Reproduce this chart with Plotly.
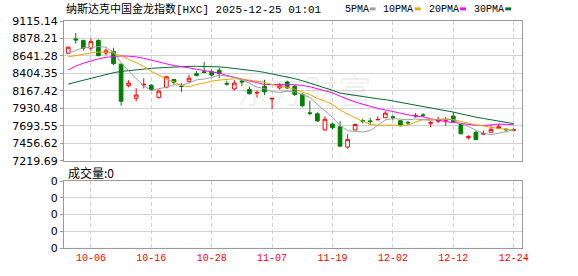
import plotly.graph_objects as go

# ---------------- data ----------------
dates = ["10-01", "10-02", "10-03", "10-06", "10-07", "10-08", "10-09", "10-10", "10-13", "10-14",
         "10-15", "10-16", "10-17", "10-20", "10-21", "10-22", "10-23", "10-24", "10-27", "10-28",
         "10-29", "10-30", "10-31", "11-03", "11-04", "11-05", "11-06", "11-07", "11-10", "11-11",
         "11-12", "11-13", "11-14", "11-17", "11-18", "11-19", "11-20", "11-21", "11-24", "11-25",
         "11-26", "11-28", "12-01", "12-02", "12-03", "12-04", "12-05", "12-08", "12-09", "12-10",
         "12-11", "12-12", "12-15", "12-16", "12-17", "12-18", "12-19", "12-22", "12-23", "12-24"]

open_ = [8676.8, 8871.6, 8851.9, 8746.6, 8851.9, 8680.8, 8700.5, 8529.4, 8237.2, 8066.0,
         8246.4, 8243.8, 8077.9, 8216.1, 8321.4, 8233.2, 8295.1, 8400.4, 8426.7, 8426.7,
         8447.8, 8266.1, 8193.7, 8299.0, 8184.5, 8137.1, 8229.3, 8058.1, 8206.9, 8285.9,
         8229.3, 8118.7, 7868.6, 7855.4, 7636.9, 7715.9, 7680.4, 7403.9, 7636.9, 7763.3,
         7759.3, 7773.8, 7802.8, 7815.9, 7762.0, 7739.6, 7825.2, 7841.0, 7729.1, 7755.4,
         7768.5, 7825.2, 7710.6, 7531.5, 7601.4, 7580.3, 7605.3, 7658.0, 7647.4, 7634.3]
high = [8766.3, 8953.2, 8858.5, 8878.2, 8865.0, 8742.6, 8753.1, 8536.0, 8312.2, 8202.9,
        8338.5, 8259.5, 8187.2, 8371.4, 8325.4, 8272.7, 8382.0, 8434.6, 8558.3, 8460.9,
        8479.4, 8305.6, 8312.2, 8316.2, 8229.3, 8171.3, 8316.2, 8066.0, 8272.7, 8305.6,
        8250.3, 8141.1, 8031.8, 7877.8, 7821.2, 7733.0, 7755.4, 7579.0, 7723.8, 7789.6,
        7798.8, 7821.2, 7890.9, 7834.4, 7766.0, 7759.3, 7864.6, 7864.6, 7755.4, 7812.0,
        7812.0, 7877.8, 7715.9, 7565.8, 7623.8, 7627.7, 7702.7, 7715.9, 7654.0, 7658.0]
low = [8667.6, 8808.4, 8713.7, 8713.7, 8634.7, 8650.5, 8516.2, 7966.0, 8216.1, 8026.6,
       8200.3, 8163.4, 8064.7, 8200.3, 8253.0, 8154.2, 8281.9, 8368.8, 8404.3, 8360.9,
       8338.5, 8239.8, 8171.3, 8229.3, 8118.7, 8075.3, 8110.8, 7921.2, 8184.5, 8193.7,
       8097.6, 7943.6, 7834.4, 7746.2, 7627.7, 7645.1, 7410.5, 7381.6, 7636.9, 7723.8,
       7702.7, 7772.5, 7802.8, 7768.5, 7689.6, 7702.7, 7802.8, 7812.0, 7671.2, 7733.0,
       7689.6, 7737.0, 7581.6, 7505.3, 7502.7, 7580.3, 7605.3, 7658.0, 7605.3, 7614.6]
close = [8759.7, 8858.5, 8746.6, 8834.8, 8645.2, 8711.0, 8536.0, 8026.6, 8272.7, 8110.8,
         8255.6, 8184.5, 8163.4, 8358.2, 8283.2, 8226.6, 8338.5, 8374.0, 8417.5, 8382.0,
         8404.3, 8259.5, 8272.7, 8288.5, 8128.0, 8145.0, 8154.2, 8066.0, 8239.8, 8206.9,
         8118.7, 7966.0, 7860.7, 7759.3, 7781.7, 7667.2, 7417.1, 7505.3, 7710.6, 7755.4,
         7750.1, 7779.1, 7864.6, 7808.0, 7693.5, 7733.0, 7831.8, 7834.4, 7735.6, 7768.5,
         7775.1, 7746.2, 7584.3, 7544.7, 7505.3, 7585.6, 7644.6, 7680.4, 7640.9, 7639.6]

ma5 = [8676.8, 8713.7, 8753.2, 8755.8, 8769.0, 8759.7, 8695.2, 8550.4, 8438.6, 8331.9,
       8239.8, 8170.0, 8197.7, 8214.8, 8249.0, 8243.8, 8274.0, 8316.1, 8328.0, 8347.7,
       8383.3, 8367.5, 8347.7, 8321.4, 8270.1, 8218.7, 8197.7, 8156.9, 8146.3, 8162.1,
       8156.9, 8120.0, 8077.9, 7981.8, 7897.6, 7806.7, 7697.5, 7626.4, 7615.9, 7610.6,
       7627.7, 7700.1, 7772.5, 7790.9, 7779.1, 7775.1, 7785.7, 7780.4, 7765.9, 7780.4,
       7789.6, 7772.5, 7722.5, 7684.3, 7631.7, 7593.5, 7572.4, 7592.2, 7611.9, 7638.3]
ma10 = [8628.1, 8647.9, 8667.6, 8680.8, 8693.9, 8693.9, 8680.8, 8641.3, 8595.2, 8550.4,
        8499.8, 8432.0, 8374.1, 8326.7, 8289.8, 8241.8, 8222.0, 8256.9, 8271.4, 8298.4,
        8313.5, 8320.8, 8331.9, 8324.7, 8309.6, 8301.0, 8282.6, 8251.6, 8234.5, 8216.1,
        8188.5, 8158.2, 8117.4, 8064.7, 8029.9, 7981.8, 7908.1, 7852.8, 7798.8, 7754.1,
        7717.2, 7698.8, 7698.8, 7704.1, 7694.9, 7701.4, 7743.6, 7776.5, 7779.1, 7780.4,
        7782.4, 7779.1, 7751.5, 7725.1, 7705.4, 7690.9, 7672.5, 7656.7, 7647.5, 7634.3]
ma20 = [8450.4, 8503.1, 8542.6, 8575.5, 8601.8, 8621.5, 8634.7, 8641.3, 8637.3, 8628.1,
        8608.4, 8582.0, 8555.7, 8529.4, 8509.6, 8496.5, 8476.7, 8463.6, 8446.5, 8424.1,
        8407.0, 8376.7, 8353.0, 8325.4, 8299.7, 8271.4, 8252.3, 8254.3, 8253.0, 8256.9,
        8250.3, 8239.8, 8224.0, 8195.0, 8170.0, 8141.1, 8095.0, 8051.6, 8016.7, 7985.8,
        7952.8, 7929.2, 7908.1, 7884.4, 7862.0, 7842.3, 7825.2, 7814.6, 7789.0, 7767.3,
        7750.1, 7738.3, 7725.1, 7714.6, 7700.1, 7696.2, 7708.0, 7716.6, 7713.3, 7706.7]
ma30 = [8259.5, 8285.9, 8312.2, 8338.5, 8364.8, 8391.2, 8413.5, 8430.7, 8443.8, 8454.4,
        8463.6, 8472.8, 8479.4, 8486.0, 8491.2, 8495.2, 8499.1, 8500.4, 8500.4, 8499.1,
        8492.5, 8483.3, 8472.8, 8462.3, 8449.1, 8434.6, 8417.5, 8397.8, 8378.0, 8355.6,
        8333.3, 8304.3, 8274.0, 8238.5, 8209.5, 8175.3, 8137.1, 8120.0, 8101.6, 8089.7,
        8072.6, 8059.5, 8048.9, 8030.5, 8010.8, 7995.0, 7977.9, 7959.4, 7937.1, 7917.3,
        7896.2, 7879.1, 7855.4, 7830.4, 7810.7, 7792.3, 7775.1, 7762.0, 7742.2, 7722.5]

volume = [0, 0, 0, 0, 0, 0, 0, 0, 0, 0, 0, 0, 0, 0, 0, 0, 0, 0, 0, 0,
          0, 0, 0, 0, 0, 0, 0, 0, 0, 0, 0, 0, 0, 0, 0, 0, 0, 0, 0, 0,
          0, 0, 0, 0, 0, 0, 0, 0, 0, 0, 0, 0, 0, 0, 0, 0, 0, 0, 0, 0]

price_ticks = [7219.69, 7456.62, 7693.55, 7930.48, 8167.42, 8404.35, 8641.28, 8878.21, 9115.14]
x_tick_labels = ["10-06", "10-16", "10-28", "11-07", "11-19", "12-02", "12-12", "12-24"]
vol_ticks = [0, 1, 2, 3, 4]
vol_tick_labels = ["0", "0", "0", "0", "0"]

title_text = "纳斯达克中国金龙指数[HXC] 2025-12-25 01:01"
legend_names = ["5PMA", "10PMA", "20PMA", "30PMA"]
volume_label = "成交量:0"
watermark = "东方财富"

# ---------------- layout constants (pixels) ----------------
W, H = 578, 276
L, R, T, B = 56, 522, 21, 255
PW, PH = R - L, B - T


def px(x):
    return (x - L) / PW


def py(y):
    return (B - y) / PH


xs = list(range(len(dates)))
tickvals = [dates.index(t) for t in x_tick_labels]

ma_colors = ["#a0a0a0", "#f5a300", "#ff00ff", "#006e2e"]

fig = go.Figure()

fig.add_trace(go.Candlestick(
    x=xs, open=open_, high=high, low=low, close=close,
    increasing=dict(line=dict(color="#ff0000", width=1), fillcolor="#ffffff"),
    decreasing=dict(line=dict(color="#008000", width=1), fillcolor="#008000"),
    whiskerwidth=0, xaxis="x", yaxis="y", hoverinfo="skip"))

for vals, col in zip([ma30, ma20, ma10, ma5], ma_colors[::-1]):
    fig.add_trace(go.Scatter(x=xs, y=vals, mode="lines",
                             line=dict(color=col, width=1),
                             xaxis="x", yaxis="y", hoverinfo="skip"))

fig.add_trace(go.Bar(x=xs, y=volume, marker_color="#008000",
                     xaxis="x2", yaxis="y2", hoverinfo="skip"))

axis_common = dict(showline=True, mirror=True, linecolor="#9a9a9a", linewidth=1,
                   zeroline=False)
xgrid = dict(showgrid=True, gridcolor="#cfcfcf", gridwidth=1, griddash="4px,3px",
             tickvals=tickvals, ticktext=x_tick_labels, range=[-0.56, 60.1])

fig.update_layout(
    width=W, height=H,
    margin=dict(l=L, r=W - R, t=T, b=H - B, pad=0),
    paper_bgcolor="white", plot_bgcolor="white",
    showlegend=False,
    xaxis=dict(domain=[0, 1], anchor="y", showticklabels=False, ticks="",
               rangeslider=dict(visible=False), **xgrid, **axis_common),
    xaxis2=dict(domain=[0, 1], anchor="y2", matches="x", showticklabels=True, ticks="",
                tickfont=dict(family="Liberation Mono, monospace", size=10, color="#ff0000"),
                **xgrid, **axis_common),
    yaxis=dict(domain=[py(165), 1], anchor="x", range=[price_ticks[0], price_ticks[-1]],
               tickvals=price_ticks, ticktext=["%.2f" % v for v in price_ticks],
               showgrid=True, gridcolor="#d2d2d2", gridwidth=1,
               ticks="outside", ticklen=3, tickcolor="#9a9a9a",
               tickfont=dict(family="DejaVu Sans", size=11, color="#000000"),
               **axis_common),
    yaxis2=dict(domain=[0, py(186)], anchor="x2", range=[vol_ticks[0], vol_ticks[-1]],
                tickvals=vol_ticks, ticktext=vol_tick_labels,
                showgrid=True, gridcolor="#d2d2d2", gridwidth=1,
                ticks="outside", ticklen=3, tickcolor="#9a9a9a",
                tickfont=dict(family="DejaVu Sans", size=11, color="#000000"),
                **axis_common),
)

annotations = []
shapes = []
annotations.append(dict(text=title_text, xref="paper", yref="paper", x=px(56), y=py(9),
                        xanchor="left", yanchor="middle", showarrow=False,
                        font=dict(family="Liberation Mono, Noto Sans CJK SC", size=11,
                                  color="#000000")))
leg_text_x = [340, 379, 425, 471]
leg_sq_x = [367, 413, 459, 505]
for name, tx, sx, col in zip(legend_names, leg_text_x, leg_sq_x, ma_colors):
    annotations.append(dict(text=name, xref="paper", yref="paper", x=px(tx), y=py(9),
                            xanchor="left", yanchor="middle", showarrow=False,
                            font=dict(family="Liberation Mono, monospace", size=10,
                                      color="#000000")))
    shapes.append(dict(type="rect", xref="paper", yref="paper",
                       x0=px(sx), x1=px(sx + 6), y0=py(10), y1=py(7),
                       fillcolor=col, line=dict(width=0)))
annotations.append(dict(text=volume_label, xref="paper", yref="paper", x=px(58), y=py(177),
                        xanchor="left", yanchor="middle", showarrow=False,
                        font=dict(family="Noto Sans CJK SC", size=12, color="#000000")))
annotations.append(dict(text=watermark, xref="paper", yref="paper", x=px(300), y=py(92),
                        xanchor="center", yanchor="middle", showarrow=False,
                        font=dict(family="Noto Sans CJK SC", size=34, color="rgba(0,0,0,0.06)")))

fig.update_layout(annotations=annotations, shapes=shapes)

fig.write_html("out.html")
